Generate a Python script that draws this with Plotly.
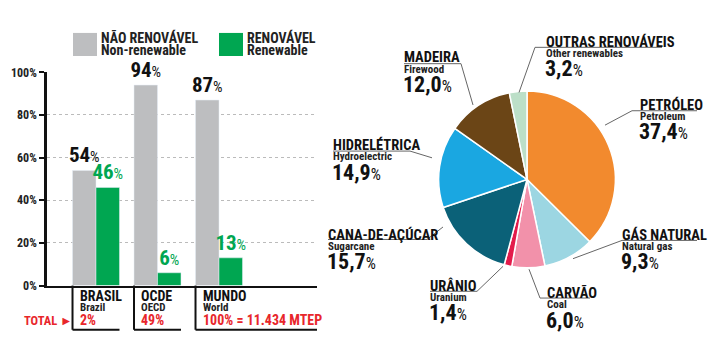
import plotly.graph_objects as go

# ---------------- data ----------------
regions_pt = ["BRASIL", "OCDE", "MUNDO"]
regions_en = ["Brazil", "OECD", "World"]
region_totals = ["2%", "49%", "100% = 11.434 MTEP"]
non_renewable = [54, 94, 87]
renewable = [46, 6, 13]
y_ticks = [0, 20, 40, 60, 80, 100]

sources_pt = ["PETRÓLEO", "GÁS NATURAL", "CARVÃO", "URÂNIO", "CANA-DE-AÇÚCAR",
              "HIDRELÉTRICA", "MADEIRA", "OUTRAS RENOVÁVEIS"]
sources_en = ["Petroleum", "Natural gas", "Coal", "Uranium", "Sugarcane",
              "Hydroelectric", "Firewood", "Other renewables"]
source_shares = [37.4, 9.3, 6.0, 1.4, 15.7, 14.9, 12.0, 3.2]

# ---------------- styles ----------------
W, H = 715, 355
FONT = "Roboto Condensed, Roboto, sans-serif"
GRAY = "#BDBEC0"
GREEN = "#00A651"
RED = "#E8262B"
slice_colors = ["#F28A2E", "#9CD6E2", "#F291AA", "#E31B4B", "#0B6178",
                "#1AA7E1", "#6B4516", "#BCDFC8"]

def X(px):
    return px / W

def Y(py):
    return 1 - py / H

def pct_html(v, small):
    return f"<b>{v}</b><span style='font-size:{small}px'>%</span>"

fig = go.Figure()

# bars
fig.add_trace(go.Bar(
    x=list(range(len(regions_pt))), y=non_renewable, marker_color=GRAY,
    text=[pct_html(v, 15) for v in non_renewable], textposition="outside",
    textfont=dict(family=FONT, size=21, color="#111"), constraintext="none",
    cliponaxis=False, showlegend=False, hoverinfo="skip"))
fig.add_trace(go.Bar(
    x=list(range(len(regions_pt))), y=renewable, marker_color=GREEN,
    text=[pct_html(v, 15) for v in renewable], textposition="outside",
    textfont=dict(family=FONT, size=21, color=GREEN), constraintext="none",
    cliponaxis=False, showlegend=False, hoverinfo="skip"))

# pie
cx, cy, r = 527, 179.5, 92
fig.add_trace(go.Pie(
    values=source_shares, labels=sources_pt, sort=False, direction="clockwise",
    rotation=0, textinfo="none", hoverinfo="skip", showlegend=False,
    marker=dict(colors=slice_colors, line=dict(color="white", width=1.5)),
    domain=dict(x=[X(cx - r), X(cx + r)], y=[Y(cy + r), Y(cy - r)])))

x0_px, x1_px = 47, 317
c0_px, step_px = 96, 61.5
fig.update_layout(
    width=W, height=H, margin=dict(l=0, r=0, t=0, b=0),
    paper_bgcolor="white", plot_bgcolor="white",
    barmode="group", bargap=0.236, bargroupgap=0,
    font=dict(family=FONT, color="#111"),
    xaxis=dict(domain=[X(x0_px), X(x1_px)],
               range=[(x0_px - c0_px) / step_px, (x1_px - c0_px) / step_px],
               showgrid=False, zeroline=False, showticklabels=False,
               showline=True, linecolor="#111", linewidth=2, ticks=""),
    yaxis=dict(domain=[Y(290), Y(68)], range=[0, 100], tickvals=y_ticks,
               ticktext=[f"<b>{t}%</b>" for t in y_ticks],
               tickfont=dict(family=FONT, size=12, color="#222"),
               ticks="outside", ticklen=5, tickwidth=2, tickcolor="#111",
               showline=True, linecolor="#111", linewidth=2.5,
               showgrid=True, gridcolor="#BBBBBB", griddash="dot", gridwidth=1,
               zeroline=False),
)

shapes = []
ann = []

# legend
for (sx, col, t1, t2) in [(73, GRAY, "NÃO RENOVÁVEL", "Non-renewable"),
                          (219, GREEN, "RENOVÁVEL", "Renewable")]:
    shapes.append(dict(type="rect", xref="paper", yref="paper", x0=X(sx), x1=X(sx + 24),
                       y0=Y(51), y1=Y(27), fillcolor=col, line=dict(width=0)))
    ann.append(dict(xref="paper", yref="paper", x=X(sx + 26), y=Y(32), text=f"<b>{t1}</b>",
                    showarrow=False, xanchor="left", yanchor="middle",
                    font=dict(family=FONT, size=14, color="#222")))
    ann.append(dict(xref="paper", yref="paper", x=X(sx + 26), y=Y(45), text=f"<b>{t2}</b>",
                    showarrow=False, xanchor="left", yanchor="middle",
                    font=dict(family=FONT, size=14, color="#222")))

# category boxes
half = (1 - 0.236) / 2
for i in range(len(regions_pt)):
    left = i - half
    right = i + half if i < len(regions_pt) - 1 else (x1_px - c0_px) / step_px
    shapes.append(dict(type="line", xref="x", yref="paper", x0=left, x1=left,
                       y0=Y(290), y1=Y(336), line=dict(color="#111", width=2)))
    shapes.append(dict(type="line", xref="x", yref="paper", x0=left, x1=right,
                       y0=Y(336), y1=Y(336), line=dict(color="#111", width=2)))
    lx = left + 5 / step_px
    ann.append(dict(xref="x", yref="paper", x=lx, y=Y(301), text=f"<b>{regions_pt[i]}</b>",
                    showarrow=False, xanchor="left", yanchor="middle",
                    font=dict(family=FONT, size=14, color="#111")))
    ann.append(dict(xref="x", yref="paper", x=lx, y=Y(312.5), text=f"<b>{regions_en[i]}</b>",
                    showarrow=False, xanchor="left", yanchor="middle",
                    font=dict(family=FONT, size=11, color="#222")))
    ann.append(dict(xref="x", yref="paper", x=lx, y=Y(326), text=f"<b>{region_totals[i]}</b>",
                    showarrow=False, xanchor="left", yanchor="middle",
                    font=dict(family=FONT, size=14, color=RED)))
ann.append(dict(xref="paper", yref="paper", x=X(22), y=Y(326), text="<b>TOTAL ►</b>",
                showarrow=False, xanchor="left", yanchor="middle",
                font=dict(family=FONT, size=12.5, color=RED)))

# pie labels: (title x, title y, leader path points)
label_layout = [
    (640, 102, [(605, 123), (632, 108), (697, 108)]),
    (622, 237, [(573, 262), (622, 243), (697, 243)]),
    (547, 298, [(529, 273), (540, 303), (590, 303)]),
    (430, 290, [(503, 270), (477, 296), (430, 296)]),
    (328, 237, [(443, 229), (427, 242), (328, 242)]),
    (333, 144, [(432, 157), (410, 150), (333, 150)]),
    (404, 53, [(473, 102), (461, 59), (404, 59)]),
    (546, 36, [(519, 89), (535, 42), (662, 42)]),
]
for k, (tx, ty, pts) in enumerate(label_layout):
    path = "M " + " L ".join(f"{X(a)},{Y(b)}" for a, b in pts)
    shapes.append(dict(type="path", xref="paper", yref="paper", path=path,
                       line=dict(color="#666", width=1)))
    ann.append(dict(xref="paper", yref="paper", x=X(tx - 2), y=Y(ty), text=f"<b>{sources_pt[k]}</b>",
                    showarrow=False, xanchor="left", yanchor="middle",
                    font=dict(family=FONT, size=14.5, color="#111")))
    ann.append(dict(xref="paper", yref="paper", x=X(tx - 2), y=Y(ty + 12), text=f"<b>{sources_en[k]}</b>",
                    showarrow=False, xanchor="left", yanchor="middle",
                    font=dict(family=FONT, size=11, color="#222")))
    val = f"{source_shares[k]:.1f}".replace(".", ",")
    ann.append(dict(xref="paper", yref="paper", x=X(tx - 3), y=Y(ty + 28), text=pct_html(val, 16),
                    showarrow=False, xanchor="left", yanchor="middle",
                    font=dict(family=FONT, size=22, color="#111")))

fig.update_layout(shapes=shapes, annotations=ann)
fig.write_html("out.html", config={"displayModeBar": False},
               post_script="document.body.style.margin='0';")
